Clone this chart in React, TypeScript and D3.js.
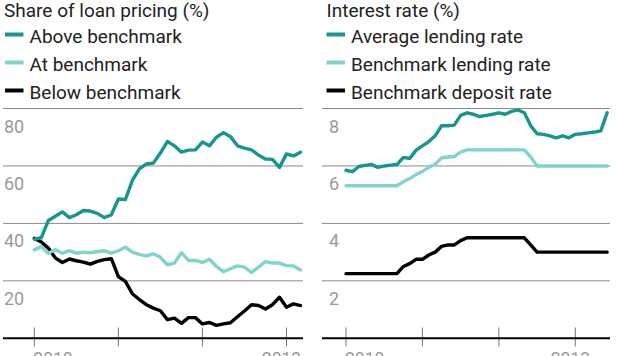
import React from "react";
import * as d3 from "d3";

// ---- Data (monthly, index 0 = Jan 2010) ----
const aboveBenchmark = [34.5, 35, 41, 42.5, 44, 42, 43, 44.5, 44.3, 43.5, 42, 43, 48.5, 48.3, 55, 59, 60.7, 61, 64.5, 68.5, 67, 64.8, 65.5, 65.6, 68.3, 67, 70, 71.6, 70.2, 67, 66.2, 65.6, 63.8, 62.4, 62.3, 59.5, 64.2, 63.5, 64.8];
const atBenchmark = [30.8, 31.9, 29.6, 30.8, 29.6, 30.5, 29.6, 30, 29.8, 30.2, 30.5, 29.6, 30.5, 31.7, 30, 29.2, 28.7, 29.4, 28.2, 25.6, 26.2, 29.8, 27.1, 27.1, 26.4, 27.5, 25, 23.2, 24.2, 25.2, 24.8, 22.9, 24.8, 26.7, 26.2, 26.2, 25.3, 25.2, 23.8];
const belowBenchmark = [34.8, 33.5, 31.4, 28, 26.4, 27.6, 27, 26.5, 25.8, 26.8, 27.4, 27.7, 21.5, 19.8, 15.5, 13.5, 11.7, 10.5, 9.6, 6.5, 7, 5.2, 7.2, 7.2, 5, 5.5, 4.5, 5, 5.4, 7.5, 9.5, 11.7, 11.4, 10.2, 11.7, 14.3, 10.8, 12, 11.4];

const avgLending = [5.85, 5.8, 5.98, 6.02, 6.05, 5.95, 6.0, 6.03, 6.05, 6.3, 6.26, 6.55, 6.7, 6.85, 7.05, 7.4, 7.4, 7.42, 7.76, 7.85, 7.8, 7.72, 7.76, 7.8, 7.85, 7.8, 7.9, 7.95, 7.85, 7.4, 7.12, 7.1, 7.05, 6.98, 7.05, 6.98, 7.1, 7.12, 7.15, 7.18, 7.22, 7.85];
const benchLending = [5.31, 5.31, 5.31, 5.31, 5.31, 5.31, 5.31, 5.31, 5.31, 5.45, 5.56, 5.7, 5.81, 5.95, 6.06, 6.28, 6.31, 6.33, 6.48, 6.56, 6.56, 6.56, 6.56, 6.56, 6.56, 6.56, 6.56, 6.56, 6.56, 6.31, 6.0, 6.0, 6.0, 6.0, 6.0, 6.0, 6.0, 6.0, 6.0, 6.0, 6.0, 6.0];
const benchDeposit = [2.25, 2.25, 2.25, 2.25, 2.25, 2.25, 2.25, 2.25, 2.25, 2.5, 2.6, 2.75, 2.75, 2.9, 3.0, 3.2, 3.25, 3.25, 3.4, 3.5, 3.5, 3.5, 3.5, 3.5, 3.5, 3.5, 3.5, 3.5, 3.5, 3.25, 3.0, 3.0, 3.0, 3.0, 3.0, 3.0, 3.0, 3.0, 3.0, 3.0, 3.0, 3.0];

const leftTicks = [0, 20, 40, 60, 80];
const rightTicks = [0, 2, 4, 6, 8];
const yearTicks = [0, 12, 24, 36]; // months from Jan 2010
const yearLabels = ["2010", "", "", "2013"];

const leftLegend = ["Above benchmark", "At benchmark", "Below benchmark"];
const rightLegend = ["Average lending rate", "Benchmark lending rate", "Benchmark deposit rate"];

const DARK = "#17978c";
const LIGHT = "#7fd4cc";
const BLACK = "#000";
const COLORS = [DARK, LIGHT, BLACK];
const FONT = "Roboto, 'Open Sans', sans-serif";

type PanelProps = {
  x0: number; x1: number; dataX0: number; dataX1: number;
  title: string; titleX: number; legend: string[]; legendX: number;
  ticks: number[]; yMax: number; series: number[][]; labelX: number;
};

function Panel(p: PanelProps) {
  const y = d3.scaleLinear().domain([0, p.yMax]).range([338.3, 108.5]);
  const x = d3.scaleLinear().domain([0, 36]).range([p.dataX0, p.dataX1]);
  const line = d3.line<number>().x((_, i) => x(i)).y((d) => y(d)).curve(d3.curveLinear);
  return (
    <g>
      <text x={p.titleX} y={16.7} fontSize={19} fill="#222" fontFamily={FONT}>{p.title}</text>
      {p.legend.map((l, i) => (
        <g key={l}>
          <line x1={p.legendX} x2={p.legendX + 18.5} y1={34.5 + i * 28} y2={34.5 + i * 28} stroke={COLORS[i]} strokeWidth={4} />
          <text x={p.legendX + 24.5} y={42.7 + i * 28} fontSize={19} fill="#222" fontFamily={FONT}>{l}</text>
        </g>
      ))}
      {p.ticks.slice(1).map((t) => (
        <g key={t}>
          <line x1={p.x0} x2={p.x1} y1={y(t)} y2={y(t)} stroke="#8a8a8a" strokeWidth={1} />
          <text x={p.labelX} y={y(t) + 24} fontSize={18} fill="#9a9a9a" fontFamily={FONT}>{t}</text>
        </g>
      ))}
      {yearTicks.map((t) => (
        <line key={t} x1={x(t)} x2={x(t)} y1={327.5} y2={346.5} stroke="#777" strokeWidth={1} />
      ))}
      {yearTicks.map((t, i) => yearLabels[i] ? (
        <text key={"l" + t} x={i === 0 ? x(t) - 1 : x(t) - 5} y={365} fontSize={17.5} fill="#9a9a9a" fontFamily={FONT}
          textAnchor={i === 0 ? "start" : "middle"}>{yearLabels[i]}</text>
      ) : null)}
      {[...p.series].reverse().map((s, ri) => {
        const i = p.series.length - 1 - ri;
        return <path key={i} d={line(s) || ""} fill="none" stroke={COLORS[i]} strokeWidth={3.4} strokeLinejoin="round" strokeLinecap="round" />;
      })}
      <line x1={p.x0} x2={p.x1} y1={338.3} y2={338.3} stroke="#000" strokeWidth={2} />
    </g>
  );
}

export default function App() {
  return (
    <svg width={620} height={356} style={{ position: "absolute", left: 0, top: 0 }}>
      <rect width={620} height={356} fill="#fff" />
      <Panel x0={3} x1={303} dataX0={34.3} dataX1={286.5} title="Share of loan pricing (%)" titleX={4}
        legend={leftLegend} legendX={5} ticks={leftTicks} yMax={80} labelX={4}
        series={[aboveBenchmark, atBenchmark, belowBenchmark]} />
      <Panel x0={322} x1={610} dataX0={346} dataX1={575.3} title="Interest rate (%)" titleX={326.5}
        legend={rightLegend} legendX={326.5} ticks={rightTicks} yMax={8} labelX={329}
        series={[avgLending, benchLending, benchDeposit]} />
    </svg>
  );
}
